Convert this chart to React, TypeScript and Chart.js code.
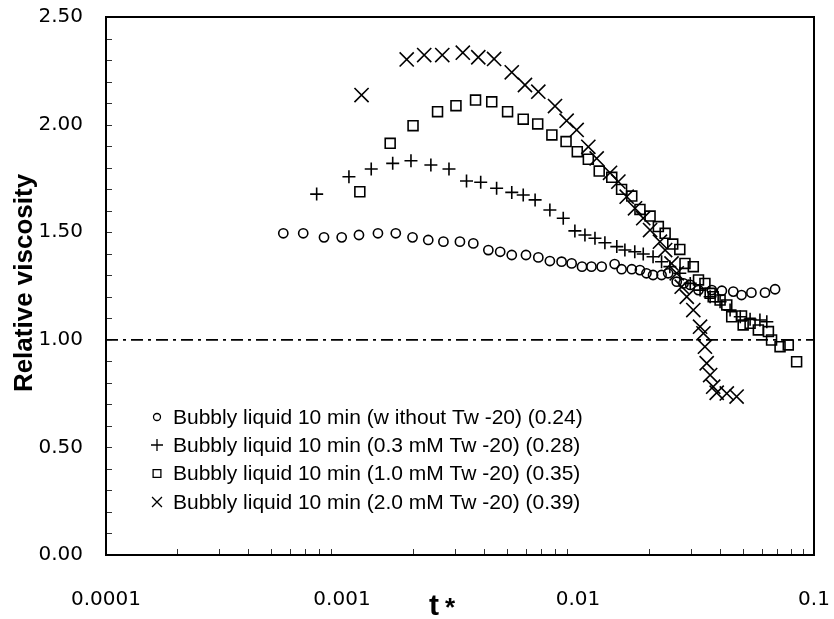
import React, { useEffect, useRef } from 'react';
import { Chart, registerables } from 'chart.js';

Chart.register(...registerables);

// ---- Data ----
const xTickValues = [0.0001, 0.001, 0.01, 0.1];
const xTickLabels = ['0.0001', '0.001', '0.01', '0.1'];
const yTickValues = [0, 0.5, 1.0, 1.5, 2.0, 2.5];

const seriesLabels = [
  'Bubbly liquid 10 min (w ithout Tw -20) (0.24)',
  'Bubbly liquid 10 min (0.3 mM Tw -20) (0.28)',
  'Bubbly liquid 10 min (1.0 mM Tw -20) (0.35)',
  'Bubbly liquid 10 min (2.0 mM Tw -20) (0.39)',
];

const noTwX = [0.000564, 0.000685, 0.000839, 0.000997, 0.00118, 0.00142, 0.00169, 0.00199, 0.00232, 0.00269, 0.00316, 0.0036, 0.00417, 0.00468, 0.00524, 0.00602, 0.00679, 0.0076, 0.00852, 0.0094, 0.0104, 0.0114, 0.0126, 0.0143, 0.0153, 0.0169, 0.0183, 0.0195, 0.0208, 0.0226, 0.0241, 0.0262, 0.028, 0.0299, 0.0324, 0.0369, 0.0407, 0.0455, 0.0493, 0.0543, 0.062, 0.0684];
const noTwY = [1.495, 1.495, 1.476, 1.476, 1.487, 1.495, 1.495, 1.476, 1.464, 1.456, 1.456, 1.448, 1.417, 1.409, 1.394, 1.394, 1.383, 1.366, 1.363, 1.355, 1.34, 1.34, 1.34, 1.352, 1.328, 1.328, 1.324, 1.309, 1.301, 1.301, 1.309, 1.27, 1.262, 1.255, 1.231, 1.231, 1.228, 1.224, 1.208, 1.219, 1.219, 1.235];

const tw03X = [0.000781, 0.00107, 0.00133, 0.00164, 0.00196, 0.00238, 0.00284, 0.00337, 0.00387, 0.00452, 0.00524, 0.00586, 0.00658, 0.0076, 0.00866, 0.0097, 0.0107, 0.0118, 0.013, 0.0146, 0.0158, 0.0174, 0.0189, 0.0208, 0.0226, 0.0245, 0.027, 0.0299, 0.0329, 0.0363, 0.04, 0.0441, 0.0487, 0.0536, 0.059, 0.0631];
const tw03Y = [1.677, 1.758, 1.794, 1.82, 1.832, 1.812, 1.794, 1.738, 1.732, 1.704, 1.685, 1.673, 1.65, 1.603, 1.565, 1.506, 1.487, 1.472, 1.451, 1.433, 1.417, 1.409, 1.399, 1.386, 1.363, 1.34, 1.309, 1.262, 1.231, 1.2, 1.177, 1.138, 1.107, 1.095, 1.092, 1.084];

const tw10X = [0.00119, 0.0016, 0.002, 0.00254, 0.00304, 0.00368, 0.00431, 0.00503, 0.00586, 0.00675, 0.00775, 0.0089, 0.00993, 0.01106, 0.0123, 0.0139, 0.0153, 0.0169, 0.0183, 0.0202, 0.0219, 0.0234, 0.0252, 0.027, 0.0284, 0.0308, 0.0324, 0.0345, 0.0363, 0.0374, 0.04, 0.0427, 0.0448, 0.0493, 0.0501, 0.0536, 0.0581, 0.0641, 0.0661, 0.0718, 0.0778, 0.0844];
const tw10Y = [1.688, 1.913, 1.995, 2.06, 2.088, 2.114, 2.106, 2.06, 2.025, 2.003, 1.952, 1.921, 1.874, 1.839, 1.784, 1.755, 1.699, 1.668, 1.606, 1.575, 1.526, 1.495, 1.445, 1.42, 1.355, 1.34, 1.278, 1.262, 1.216, 1.2, 1.185, 1.162, 1.107, 1.111, 1.069, 1.077, 1.046, 1.038, 0.999, 0.968, 0.976, 0.898];

const tw20X = [0.00121, 0.00188, 0.00223, 0.00266, 0.00325, 0.00378, 0.00441, 0.00524, 0.00596, 0.00679, 0.00799, 0.00895, 0.00987, 0.01106, 0.012, 0.01367, 0.01483, 0.01608, 0.01744, 0.0189, 0.0202, 0.02225, 0.0234, 0.0249, 0.0262, 0.0275, 0.0289, 0.0308, 0.0329, 0.034, 0.0345, 0.0351, 0.0363, 0.0374, 0.0387, 0.0427, 0.047];
const tw20Y = [2.137, 2.303, 2.323, 2.323, 2.334, 2.313, 2.305, 2.243, 2.184, 2.153, 2.086, 2.018, 1.975, 1.897, 1.843, 1.776, 1.735, 1.665, 1.611, 1.565, 1.51, 1.456, 1.417, 1.355, 1.309, 1.247, 1.2, 1.138, 1.061, 1.03, 0.968, 0.891, 0.836, 0.782, 0.754, 0.751, 0.736];

const refLineX = [0.0001, 0.1];
const refLineY = [1.0, 1.0];

const yMinorStep = 0.1;
const xMinorMultipliers = [2, 3, 4, 5, 6, 7, 8, 9];

const toPts = (xs: number[], ys: number[]) => xs.map((x, i) => ({ x, y: ys[i] }));

const pointStyles = ['circle', 'cross', 'rect', 'crossRot'];
const legendSizes = [3.5, 6, 5.5, 7];

function drawMarker(ctx: CanvasRenderingContext2D, style: string, x: number, y: number, r: number) {
  ctx.beginPath();
  if (style === 'circle') {
    ctx.arc(x, y, r, 0, Math.PI * 2);
  } else if (style === 'cross') {
    ctx.moveTo(x - r, y);
    ctx.lineTo(x + r, y);
    ctx.moveTo(x, y - r);
    ctx.lineTo(x, y + r);
  } else if (style === 'rect') {
    const s = r * Math.SQRT1_2;
    ctx.rect(x - s, y - s, 2 * s, 2 * s);
  } else {
    const s = r * Math.SQRT1_2;
    ctx.moveTo(x - s, y - s);
    ctx.lineTo(x + s, y + s);
    ctx.moveTo(x + s, y - s);
    ctx.lineTo(x - s, y + s);
  }
  ctx.stroke();
}

const zeroPad = (scale: any) => {
  scale.paddingTop = 0;
  scale.paddingBottom = 0;
  scale.paddingLeft = 0;
  scale.paddingRight = 0;
};

const framePlugin = {
  id: 'framePlugin',
  afterDraw(chart: any) {
    const { ctx, chartArea, scales } = chart;
    const { left, right, top, bottom } = chartArea;
    const xs = scales.x;
    const ys = scales.y;
    ctx.save();
    // minor ticks on y (inside)
    ctx.strokeStyle = '#333';
    ctx.lineWidth = 1;
    ctx.beginPath();
    for (let v = 0; v <= 2.5001; v += yMinorStep) {
      const py = Math.round(ys.getPixelForValue(v)) + 0.5;
      ctx.moveTo(left, py);
      ctx.lineTo(left + 6, py);
    }
    // minor ticks on x (inside)
    for (const dec of xTickValues) {
      for (const m of xMinorMultipliers) {
        const v = dec * m;
        if (v >= 0.1) continue;
        const px = Math.round(xs.getPixelForValue(v)) + 0.5;
        ctx.moveTo(px, bottom);
        ctx.lineTo(px, bottom - 6);
      }
    }
    ctx.stroke();
    // frame
    ctx.strokeStyle = '#000';
    ctx.lineWidth = 2;
    ctx.strokeRect(left, top, right - left, bottom - top);

    // axis titles
    ctx.fillStyle = '#000';
    ctx.font = 'bold 26px "Liberation Sans", Arial, sans-serif';
    ctx.textAlign = 'center';
    ctx.textBaseline = 'alphabetic';
    ctx.save();
    ctx.translate(32, (top + bottom) / 2 - 3);
    ctx.rotate(-Math.PI / 2);
    ctx.fillText('Relative viscosity', 0, 0);
    ctx.restore();

    ctx.textAlign = 'left';
    ctx.font = 'bold 30px "Liberation Sans", Arial, sans-serif';
    ctx.fillText('t', 429, 615);
    ctx.font = 'bold 26px "Liberation Sans", Arial, sans-serif';
    ctx.fillText('*', 445, 616);

    // legend
    ctx.font = '21px "Liberation Sans", Arial, sans-serif';
    ctx.textBaseline = 'middle';
    ctx.lineWidth = 1.3;
    ctx.strokeStyle = '#000';
    const rowsY = [417, 445, 473.5, 502];
    seriesLabels.forEach((lab, i) => {
      drawMarker(ctx, pointStyles[i], 157, rowsY[i], legendSizes[i]);
      ctx.fillText(lab, 173, rowsY[i] + 1);
    });
    ctx.restore();
  },
};

export default function App() {
  const canvasRef = useRef<HTMLCanvasElement | null>(null);

  useEffect(() => {
    document.body.style.margin = '0';
    document.body.style.overflow = 'hidden';
    const canvas = canvasRef.current;
    if (!canvas) return;
    const common = {
      showLine: false,
      borderColor: '#000',
      backgroundColor: 'rgba(0,0,0,0)',
      pointBorderWidth: 1.6,
      pointHoverRadius: 0,
    };
    const chart = new Chart(canvas, {
      type: 'scatter',
      data: {
        datasets: [
          {
            type: 'line',
            label: 'ref',
            data: toPts(refLineX, refLineY),
            borderColor: '#000',
            borderWidth: 1.8,
            borderDash: [12, 5, 3, 5],
            pointRadius: 0,
            showLine: true,
            fill: false,
          } as any,
          { ...common, label: seriesLabels[0], data: toPts(noTwX, noTwY), pointStyle: 'circle', pointRadius: 4.6 },
          { ...common, label: seriesLabels[1], data: toPts(tw03X, tw03Y), pointStyle: 'cross', pointRadius: 6.5 },
          { ...common, label: seriesLabels[2], data: toPts(tw10X, tw10Y), pointStyle: 'rect', pointRadius: 7 },
          { ...common, label: seriesLabels[3], data: toPts(tw20X, tw20Y), pointStyle: 'crossRot', pointRadius: 10 },
        ],
      },
      options: {
        animation: false,
        responsive: true,
        maintainAspectRatio: false,
        layout: { padding: { top: 17, right: 20, left: 0, bottom: 0 } },
        plugins: {
          legend: { display: false },
          tooltip: { enabled: false },
        },
        scales: {
          x: {
            type: 'logarithmic',
            min: 0.0001,
            max: 0.1,
            afterBuildTicks: (scale: any) => {
              scale.ticks = xTickValues.map((v) => ({ value: v }));
            },
            afterFit: (scale: any) => {
              scale.height = 64;
              zeroPad(scale);
            },
            grid: { display: false, drawTicks: false },
            border: { display: false },
            ticks: {
              autoSkip: false,
              maxRotation: 0,
              padding: 33,
              color: '#000',
              font: { family: '"DejaVu Sans", sans-serif', size: 20 },
              callback: (value: any) => {
                const idx = xTickValues.findIndex((v) => Math.abs(v - Number(value)) / v < 1e-6);
                return idx >= 0 ? xTickLabels[idx] : '';
              },
            },
          },
          y: {
            type: 'linear',
            min: 0,
            max: 2.5,
            afterBuildTicks: (scale: any) => {
              scale.ticks = yTickValues.map((v) => ({ value: v }));
            },
            afterFit: (scale: any) => {
              scale.width = 106;
              zeroPad(scale);
            },
            grid: { display: false, drawTicks: false },
            border: { display: false },
            ticks: {
              padding: 23,
              color: '#000',
              font: { family: '"DejaVu Sans", sans-serif', size: 20 },
              callback: (value: any) => Number(value).toFixed(2),
            },
          },
        },
      },
      plugins: [framePlugin],
    } as any);
    return () => chart.destroy();
  }, []);

  return (
    <div style={{ width: 834, height: 619, position: 'relative' }}>
      <canvas ref={canvasRef} />
    </div>
  );
}
